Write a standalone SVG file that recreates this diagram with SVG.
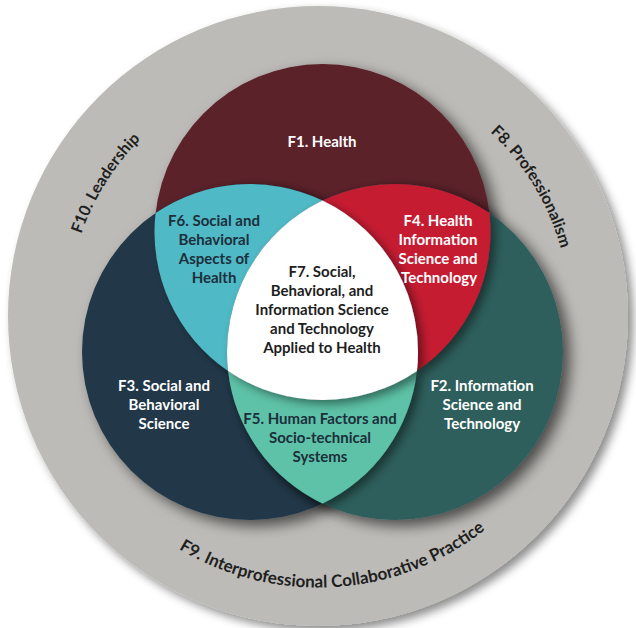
<svg xmlns="http://www.w3.org/2000/svg" xmlns:xlink="http://www.w3.org/1999/xlink" width="636" height="628" viewBox="0 0 636 628">
<style>
.lbl{font-family:Lato,"Open Sans","Liberation Sans",sans-serif;font-weight:700;font-size:15px;text-anchor:middle}
.w{fill:#ffffff}
.d{fill:#1c2f3b}
.k{fill:#1e1e1e}
.ring{font-family:Lato,"Open Sans","Liberation Sans",sans-serif;font-weight:700;font-size:17px;fill:#1f1f1f}
.sm{font-size:16px}
</style>
<defs>
<filter id="sh0" x="-10%" y="-10%" width="125%" height="125%">
<feDropShadow dx="5" dy="5" stdDeviation="5" flood-color="#000" flood-opacity="0.45"/>
</filter>
<filter id="sh1" x="-20%" y="-20%" width="150%" height="150%">
<feDropShadow dx="7" dy="6" stdDeviation="7" flood-color="#000" flood-opacity="0.6"/>
</filter>
<filter id="sh2" x="-20%" y="-20%" width="150%" height="150%">
<feDropShadow dx="5" dy="4" stdDeviation="5" flood-color="#000" flood-opacity="0.45"/>
</filter>
<path id="pF10" d="M79.3,393.6 A252,252 0 0,1 283.1,67.4"/>
<path id="pF8" d="M356.6,67 A252,252 0 0,1 556.6,397.2"/>
<path id="pF9" d="M121.7,502.9 A270,270 0 0,0 536.1,476.8"/>
</defs>
<rect width="636" height="628" fill="#ffffff"/>
<g id="outer">
<circle cx="318" cy="316" r="310" fill="#bcbbb7" filter="url(#sh0)"/>
</g>
<g id="F1">
<circle cx="322.5" cy="232" r="168" fill="#5c2029" filter="url(#sh1)"/>
</g>
<g id="F3">
<circle cx="250" cy="352" r="168" fill="#22384a" filter="url(#sh1)"/>
</g>
<g id="F2">
<circle cx="395" cy="352" r="168" fill="#2e5e5c" filter="url(#sh1)"/>
</g>
<g id="F6">
<path d="M155.57,213.05 A168,168 0 0,1 322.5,200.45 A168,168 0 0,0 228.07,370.95 A168,168 0 0,1 155.57,213.05 Z" fill="#4fb9c6" filter="url(#sh2)"/>
</g>
<g id="F4">
<path d="M489.43,213.05 A168,168 0 0,0 322.5,200.45 A168,168 0 0,1 416.93,370.95 A168,168 0 0,0 489.43,213.05 Z" fill="#c61a30" filter="url(#sh2)"/>
</g>
<g id="F5">
<path d="M228.07,370.95 A168,168 0 0,0 416.93,370.95 A168,168 0 0,1 322.5,503.55 A168,168 0 0,1 228.07,370.95 Z" fill="#5dc2a7" filter="url(#sh2)"/>
</g>
<g id="F7">
<path d="M322.5,200.45 A168,168 0 0,0 228.07,370.95 A168,168 0 0,0 416.93,370.95 A168,168 0 0,0 322.5,200.45 Z" fill="#ffffff" filter="url(#sh2)"/>
</g>
<g id="labels">
<text class="lbl w" x="322" y="147">F1. Health</text>
<text class="lbl d" x="214"><tspan x="214" y="225.5">F6. Social and</tspan><tspan x="214" y="244.5">Behavioral</tspan><tspan x="214" y="263.5">Aspects of</tspan><tspan x="214" y="282.5">Health</tspan></text>
<text class="lbl w" x="438"><tspan x="438" y="225.5">F4. Health</tspan><tspan x="438" y="244.5">Information</tspan><tspan x="438" y="263.5">Science and</tspan><tspan x="439" y="282.5">Technology</tspan></text>
<text class="lbl k" x="322"><tspan x="322" y="276.5">F7. Social,</tspan><tspan x="322" y="295.5">Behavioral, and</tspan><tspan x="322" y="314.5">Information Science</tspan><tspan x="322" y="333.5">and Technology</tspan><tspan x="322" y="352.5">Applied to Health</tspan></text>
<text class="lbl w" x="164"><tspan x="164" y="390.5">F3. Social and</tspan><tspan x="164" y="409.5">Behavioral</tspan><tspan x="164" y="428.5">Science</tspan></text>
<text class="lbl w" x="482"><tspan x="482" y="390.5">F2. Information</tspan><tspan x="482" y="409.5">Science and</tspan><tspan x="482" y="428.5">Technology</tspan></text>
<text class="lbl d" x="320"><tspan x="320" y="424">F5. Human Factors and</tspan><tspan x="320" y="443">Socio-technical</tspan><tspan x="320" y="462">Systems</tspan></text>
</g>
<g id="F10">
<text class="ring sm" text-anchor="middle"><textPath xlink:href="#pF10" href="#pF10" startOffset="50%">F10. Leadership</textPath></text>
</g>
<g id="F8">
<text class="ring sm" text-anchor="middle"><textPath xlink:href="#pF8" href="#pF8" startOffset="50%">F8. Professionalism</textPath></text>
</g>
<g id="F9">
<text class="ring" text-anchor="middle"><textPath xlink:href="#pF9" href="#pF9" startOffset="50%">F9. Interprofessional Collaborative Practice</textPath></text>
</g>
</svg>
